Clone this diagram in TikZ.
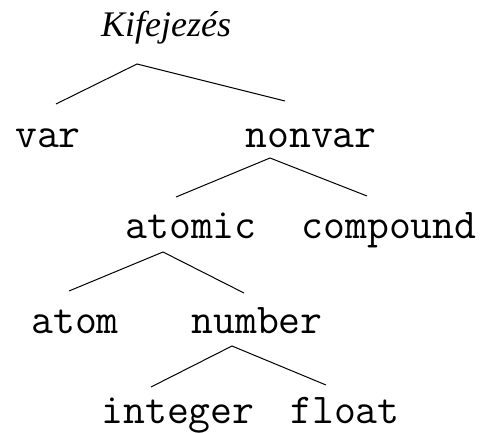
\documentclass[tikz,border=0pt]{standalone}
\usepackage{fontspec}
\usepackage{tikz}
\newfontfamily\headfont{Liberation Serif}
\tikzset{%
  term/.style={font=\ttfamily\fontsize{42.5}{44}\selectfont,inner sep=0pt,anchor=base},
  head/.style={font=\headfont\itshape\fontsize{36}{40}\selectfont,inner sep=0pt,anchor=base},
  branch/.style={line width=1pt}
}
\NewDocumentCommand\fork{mmmm}{%
  \coordinate (#1-top) at (#2);
  \coordinate (#1-l) at (#3);
  \coordinate (#1-r) at (#4);
  \draw[branch] (#1-l) -- (#1-top) -- (#1-r);
}

\begin{document}
\begin{tikzpicture}[x=1pt,y=-1pt]
  \useasboundingbox (0,0) rectangle (484,433);
  % Terms
  \node[head] (kif) at (166,37) {Kifejezés};
  \node[term] (var) at (48,147) {var};
  \node[term] (nonvar) at (311,147) {nonvar};
  \node[term] (atomic) at (191,238) {atomic};
  \node[term] (compound) at (389,238) {compound};
  \node[term] (atom) at (75,333) {atom};
  \node[term] (number) at (257,333) {number};
  \node[term] (integer) at (178,423) {integer};
  \node[term] (float) at (345,423) {float};
  % Branches
  \fork{kif}{137,64}{56,104}{285,101}
  \fork{nonvar}{270,158}{176,197}{367,196}
  \fork{atomic}{163,252}{69,291}{244,293}
  \fork{number}{232,346}{151,387}{326,385}
\end{tikzpicture}
\end{document}
